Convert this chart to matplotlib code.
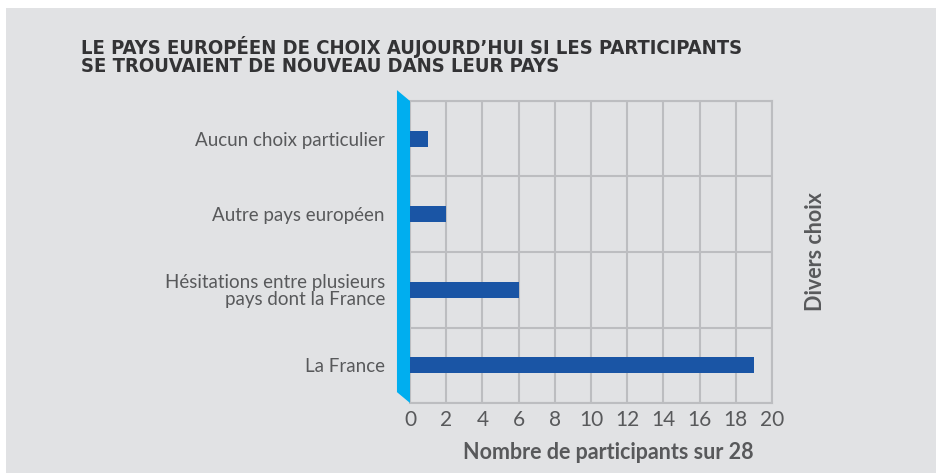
import matplotlib.pyplot as plt
from matplotlib.patches import Polygon, Rectangle
from matplotlib.ticker import MultipleLocator

# data (bottom to top)
categories = ["La France", "Hésitations entre plusieurs\npays dont la France",
              "Autre pays européen", "Aucun choix particulier"]
participants = [19, 6, 2, 1]
x_ticks = list(range(0, 21, 2))

title = ("LE PAYS EUROPÉEN DE CHOIX AUJOURD’HUI SI LES PARTICIPANTS\n"
         "SE TROUVAIENT DE NOUVEAU DANS LEUR PAYS")

bg = "#e1e2e4"
bar_col = "#1a55a5"
cyan = "#00aeef"
grid_col = "#bcbdc0"
txt = "#58595b"

fig = plt.figure(figsize=(9.39, 4.73), dpi=100)
fig.patch.set_facecolor("white")
# grey panel
fig.patches.append(Rectangle((6 / 939, 0), 930 / 939, 465 / 473, transform=fig.transFigure,
                             facecolor=bg, edgecolor="none", zorder=-10))

ax = fig.add_axes([410 / 939, 1 - 403 / 473, 362 / 939, 302 / 473])
ax.set_zorder(2)
ax.set_facecolor(bg)

y = range(len(categories))
ax.barh(y, participants, height=0.21, color=bar_col, zorder=3)

ax.set_xlim(0, 20)
ax.set_ylim(-0.5, 3.5)
ax.set_xticks(x_ticks)
ax.set_xticklabels([str(t) for t in x_ticks], fontsize=15, color=txt,
                   family=["Lato", "DejaVu Sans"])
ax.set_yticks(list(y))
ax.set_yticklabels(categories, fontsize=13.5, color=txt, linespacing=0.95,
                   family=["Lato", "DejaVu Sans"])
ax.yaxis.set_minor_locator(MultipleLocator(1, offset=0.5))
ax.tick_params(length=0, which="both")
ax.tick_params(axis="y", pad=18)
ax.tick_params(axis="x", pad=5)
ax.grid(True, axis="x", color=grid_col, linewidth=1.5, zorder=1)
ax.grid(True, axis="y", which="minor", color=grid_col, linewidth=1.5, zorder=1)
for s in ["top", "right", "bottom"]:
    ax.spines[s].set_color(grid_col)
    ax.spines[s].set_linewidth(1.5)
ax.spines["left"].set_visible(False)

# slanted cyan axis bar
ax.add_patch(Polygon([(-0.036, 1.036), (0, 1.0), (0, 0), (-0.036, 0.036)],
                     closed=True, transform=ax.transAxes, facecolor=cyan,
                     edgecolor="none", clip_on=False, zorder=5))

fig.text(608 / 939, 1 - 452 / 473, "Nombre de participants sur 28", ha="center", va="center",
         fontsize=15.5, fontweight="bold", color=txt, family=["Lato", "DejaVu Sans"])

fig.text(816 / 939, 1 - 252 / 473, "Divers choix", rotation=90, ha="center", va="center",
         fontsize=15.5, fontweight="bold", color=txt, family=["Lato", "DejaVu Sans"])

fig.text(81 / 939, 1 - 36 / 473, title, ha="left", va="top", fontsize=14.5,
         fontweight="bold", fontstretch="condensed", color="#333335", linespacing=0.9,
         family=["DejaVu Sans"])

fig.savefig("out.png", dpi=100, facecolor=fig.get_facecolor())
